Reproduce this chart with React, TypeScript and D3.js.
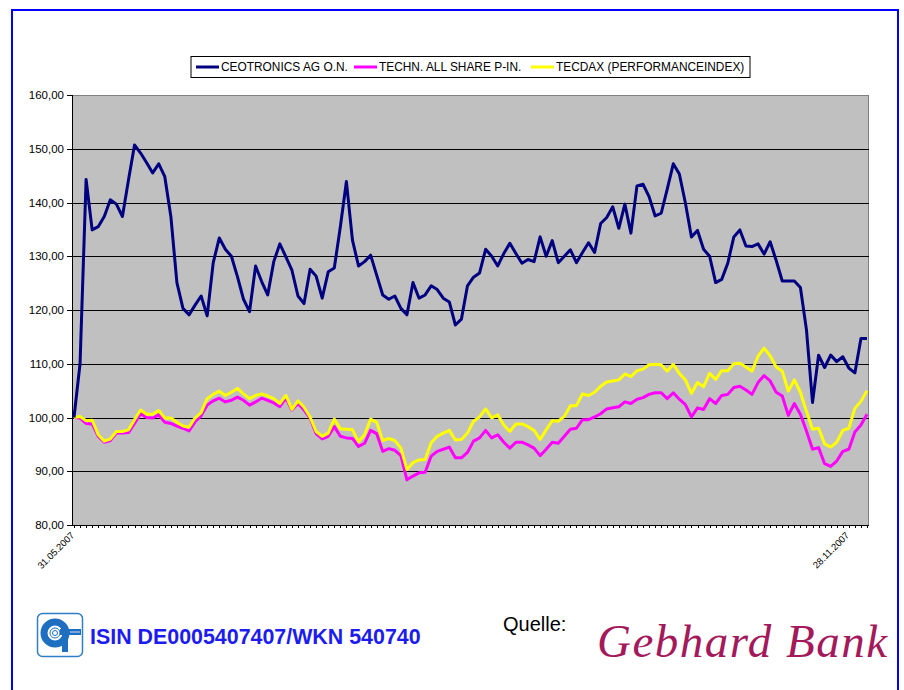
import React from 'react';
import * as d3 from 'd3';

const ceotronics = [
  100, 110, 144.3, 134.9, 135.5, 137.4, 140.5, 139.7, 137.4, 144.2,
  150.7, 149.2, 147.4, 145.5, 147.2, 144.8, 137.4, 125.1, 120.3, 119.1,
  120.9, 122.6, 118.9, 128.8, 133.4, 131.3, 130.0, 126.2, 122.0, 119.7,
  128.2, 125.3, 122.8, 129.0, 132.3, 129.9, 127.4, 122.6, 121.2, 127.6,
  126.3, 122.2, 127.1, 127.8, 135.5, 143.9, 133.0, 128.2, 129.0, 130.2,
  126.5, 122.8, 122.0, 122.6, 120.3, 119.1, 125.1, 122.2, 122.8, 124.5,
  123.8, 122.2, 121.5, 117.2, 118.3, 124.5, 126.1, 126.9, 131.3, 130.0,
  128.2, 130.5, 132.4, 130.5, 128.7, 129.4, 129.0, 133.6, 130.0, 132.9,
  128.8, 130.0, 131.2, 128.8, 130.7, 132.5, 130.7, 136.1, 137.2, 139.2,
  135.2, 139.7, 134.3, 143.1, 143.4, 141.1, 137.5, 138.0, 142.5, 147.2,
  145.3, 139.9, 133.6, 134.8, 131.3, 130.0, 125.1, 125.7, 128.7, 133.6,
  134.9, 131.9, 131.8, 132.3, 130.4, 132.7, 129.2, 125.4, 125.4, 125.4,
  124.2, 116.3, 102.8, 111.6, 109.3, 111.6, 110.4, 111.3, 109.2, 108.3,
  114.7, 114.7,
];

const techAllShare = [
  100, 99.9, 98.9, 98.8, 96.5, 95.4, 95.7, 97.1, 97.1, 97.2,
  98.9, 100.7, 100.0, 99.9, 100.5, 99.1, 98.9, 98.4, 98.0, 97.5,
  99.2, 100.3, 102.3, 103.1, 103.6, 102.9, 103.2, 103.8, 103.2, 102.3,
  102.9, 103.6, 103.2, 102.7, 102.0, 103.6, 101.4, 102.6, 101.4, 99.9,
  97.0, 96.0, 96.5, 98.3, 96.5, 96.2, 96.1, 94.6, 95.2, 97.6,
  97.0, 93.7, 94.2, 93.9, 92.9, 88.4, 89.1, 89.7, 89.8, 92.8,
  93.7, 94.1, 94.5, 92.5, 92.5, 93.5, 95.6, 96.2, 97.6, 96.2,
  96.8, 95.4, 94.3, 95.4, 95.4, 94.9, 94.3, 92.9, 94.1, 95.4,
  95.2, 96.5, 97.8, 98.0, 99.6, 99.6, 100.1, 100.7, 101.6, 101.8,
  102.0, 102.9, 102.6, 103.4, 103.7, 104.3, 104.6, 104.6, 103.5, 104.6,
  103.4, 102.4, 100.1, 101.8, 101.5, 103.5, 102.6, 104.1, 104.3, 105.6,
  105.8, 105.1, 104.3, 106.5, 107.8, 106.8, 104.7, 104.0, 100.4, 102.6,
  100.6, 97.5, 94.1, 94.4, 91.4, 90.9, 91.9, 93.7, 94.1, 97.3,
  98.6, 100.6,
];

const tecdax = [
  100, 100.2, 99.4, 99.5, 96.8, 95.6, 96.0, 97.4, 97.4, 97.7,
  99.6, 101.4, 100.6, 100.6, 101.3, 99.9, 99.9, 99.1, 98.4, 98.2,
  99.9, 100.9, 103.5, 104.3, 104.9, 104.1, 104.7, 105.4, 104.4, 103.5,
  104.1, 104.4, 104.0, 103.5, 102.6, 104.1, 101.5, 103.1, 101.9, 100.1,
  97.4, 96.5, 97.1, 99.7, 97.9, 97.8, 97.7, 95.5, 96.8, 99.7,
  99.1, 95.7, 96.1, 95.7, 94.3, 90.3, 91.6, 92.1, 92.2, 95.3,
  96.5, 97.1, 97.6, 95.8, 95.9, 97.1, 99.3, 100.1, 101.6, 99.9,
  100.5, 98.6, 97.4, 98.8, 98.8, 98.3, 97.6, 95.9, 97.7, 99.4,
  99.3, 100.2, 102.2, 102.2, 104.4, 104.1, 104.7, 105.8, 106.6, 106.8,
  107.0, 108.1, 107.6, 108.7, 109.0, 109.8, 109.9, 109.8, 108.6, 109.9,
  108.2, 107.0, 104.5, 106.5, 105.7, 108.2, 107.1, 108.7, 108.7, 110.0,
  110.1, 109.4, 108.6, 111.4, 112.9, 111.5, 109.4, 108.6, 104.9, 107.0,
  104.7, 101.1, 97.8, 98.0, 95.1, 94.5, 95.4, 97.6, 98.0, 101.7,
  103.0, 105.0,
];

const yTicks = [80, 90, 100, 110, 120, 130, 140, 150, 160];
const xTickLabels = ['31.05.2007', '28.11.2007'];
const xTickLabelIndex = [0, 128];
const seriesNames = ['CEOTRONICS AG O.N.', 'TECHN. ALL SHARE P-IN.', 'TECDAX (PERFORMANCEINDEX)'];
const seriesColors = ['#000080', '#FF00FF', '#FFFF00'];

const FONT = "'Liberation Sans', Arial, Helvetica, sans-serif";

export default function App() {
  const W = 904;
  const H = 690;
  const left = 72, right = 869, top = 95, bottom = 525;
  const n = ceotronics.length;
  const idx = d3.range(n);
  const x = d3.scalePoint<number>().domain(idx).range([74, 867]);
  const y = d3.scaleLinear().domain([80, 160]).range([bottom, top]);
  const line = d3.line<number>().x((_, i) => x(i) as number).y((d) => y(d));
  const fmt = (v: number) => v.toFixed(2).replace('.', ',');

  const series = [ceotronics, techAllShare, tecdax];
  const drawOrder = [1, 2, 0];

  const legendX = [196, 354, 531];

  return (
    <svg width={W} height={H} style={{ position: 'absolute', left: 0, top: 0, background: '#fff' }} fontFamily={FONT}>
      <rect x={0} y={0} width={W} height={H} fill="#fff" />
      {/* page frame */}
      <rect x={12} y={10} width={886} height={720} fill="none" stroke="#0000FF" strokeWidth={2} />

      {/* legend */}
      <rect x={191} y={56.5} width={559} height={21} fill="#fff" stroke="#000" strokeWidth={1} />
      {seriesNames.map((s, i) => (
        <g key={s}>
          <line x1={legendX[i]} x2={legendX[i] + 23} y1={67} y2={67} stroke={seriesColors[i]} strokeWidth={3} />
          <text x={legendX[i] + 25} y={71} fontSize={11.9} fill="#000">{s}</text>
        </g>
      ))}

      {/* plot area */}
      <rect x={left} y={top} width={right - left} height={bottom - top} fill="#C0C0C0" />
      <line x1={left} x2={right} y1={top + 0.5} y2={top + 0.5} stroke="#808080" strokeWidth={1} />
      <line x1={right - 0.5} x2={right - 0.5} y1={top} y2={bottom} stroke="#808080" strokeWidth={1} />
      {yTicks.filter((t) => t !== 80 && t !== 160).map((t) => (
        <line key={t} x1={left} x2={right} y1={Math.round(y(t)) + 0.5} y2={Math.round(y(t)) + 0.5} stroke="#000" strokeWidth={1} />
      ))}

      {/* y axis */}
      <line x1={left + 0.5} x2={left + 0.5} y1={top} y2={bottom} stroke="#000" strokeWidth={1} />
      {yTicks.map((t) => (
        <g key={t}>
          <line x1={left - 5} x2={left} y1={Math.round(y(t)) + 0.5} y2={Math.round(y(t)) + 0.5} stroke="#000" strokeWidth={1} />
          <text x={64} y={y(t)} dy="0.35em" textAnchor="end" fontSize={11.5} fill="#000">{fmt(t)}</text>
        </g>
      ))}

      {/* x axis */}
      <line x1={left} x2={right} y1={bottom + 0.5} y2={bottom + 0.5} stroke="#000" strokeWidth={1} />
      {idx.map((i) => (
        <line key={i} x1={Math.round(x(i) as number) + 0.5} x2={Math.round(x(i) as number) + 0.5} y1={bottom} y2={bottom + 3} stroke="#000" strokeWidth={1} />
      ))}
      {xTickLabels.map((lab, k) => (
        <text key={lab} transform={`translate(${(x(xTickLabelIndex[k]) as number) + 1},${536}) rotate(-45)`} textAnchor="end" fontSize={9.5} fill="#000">{lab}</text>
      ))}

      {/* series */}
      {drawOrder.map((si) => (
        <path key={si} d={line(series[si]) || ''} fill="none" stroke={seriesColors[si]} strokeWidth={3} strokeLinejoin="round" />
      ))}

      {/* logo */}
      <g>
        <rect x={37.5} y={613.5} width={45} height={43} rx={5} fill="#fff" stroke="#2f7fc8" strokeWidth={1.5} />
        <circle cx={55} cy={633} r={11} fill="none" stroke="#1f6fc0" strokeWidth={7} />
        <circle cx={55} cy={633} r={5} fill="none" stroke="#1f6fc0" strokeWidth={1} />
        <circle cx={55} cy={633} r={2.5} fill="none" stroke="#1f6fc0" strokeWidth={1} />
        <rect x={60} y={629} width={21} height={6} fill="#1f6fc0" />
        <rect x={62} y={629} width={6} height={23} fill="#1f6fc0" />
        <line x1={70} x2={80} y1={632} y2={632} stroke="#fff" strokeWidth={0.8} />
      </g>
      <text x={90} y={644} fontSize={21.4} fontWeight="bold" fill="#1c1cf0">ISIN DE0005407407/WKN 540740</text>

      <text x={503} y={631} fontSize={20} fill="#000">Quelle:</text>
      <text x={597} y={657} fontSize={47} fontStyle="italic" fontFamily="'Liberation Serif', 'DejaVu Serif', serif" fill="#a3195b" textLength={290} lengthAdjust="spacing">Gebhard Bank</text>
    </svg>
  );
}
